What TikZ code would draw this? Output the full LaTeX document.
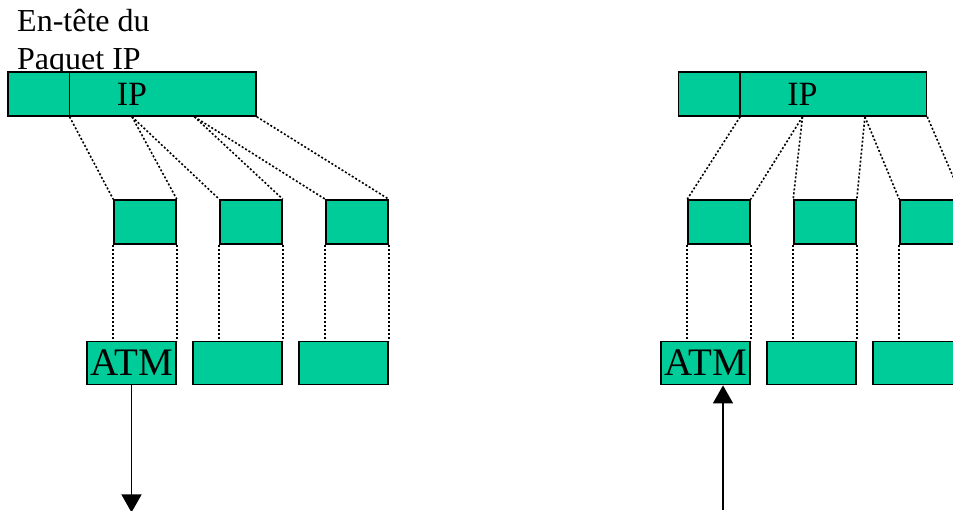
\documentclass[tikz,border=0pt]{standalone}
\usepackage{fontspec}
\setmainfont{Liberation Serif}
\usetikzlibrary{positioning}
\usetikzlibrary{calc}
\usetikzlibrary{arrows.meta}
\definecolor{cellgreen}{RGB}{0,204,153}
\tikzset{>={Triangle[width=20pt,length=18pt]}}
\tikzset{cell/.style={draw, fill=cellgreen, line width=1.6pt, inner sep=0pt, minimum height=44pt}}
\tikzset{ipbar/.style={cell, minimum width=248pt, font=\fontsize{34}{38}\selectfont}}
\tikzset{frag/.style={cell, minimum width=62pt}}
\tikzset{atmcell/.style={cell, minimum width=89pt, minimum height=43pt, font=\fontsize{39}{42}\selectfont}}
\tikzset{link/.style={line width=1.6pt, dash pattern=on 2pt off 2pt}}

\begin{document}
\begin{tikzpicture}[x=1pt, y=-1pt]
        \clip (0,0) rectangle (953,511);

        \node[anchor=base west, align=left, inner sep=0pt, font=\fontsize{32}{38}\selectfont] (title) at (17,70) {En-tête du\\Paquet IP};

        % sending side
        \node[ipbar] (barL) at (132,94) {IP};
        \coordinate (barL-1) at ($(barL.south west)!.25!(barL.south east)$);
        \coordinate (barL-2) at ($(barL.south west)!.5!(barL.south east)$);
        \coordinate (barL-3) at ($(barL.south west)!.75!(barL.south east)$);
        \draw[line width=1.6pt] ($(barL.north west)!.25!(barL.north east)$) -- (barL-1);

        \node[frag] (fL1) at (145,222) {};
        \node[frag, right=42.4pt of fL1] (fL2) {};
        \node[frag, right=42.4pt of fL2] (fL3) {};

        \node[atmcell, anchor=north east] (aL1) at ([yshift=-96pt]fL1.south east) {ATM};
        \node[atmcell, anchor=north east] (aL2) at ([yshift=-96pt]fL2.south east) {};
        \node[atmcell, anchor=north east] (aL3) at ([yshift=-96pt]fL3.south east) {};

        \draw[link] (barL-1) -- (fL1.north west);
        \draw[link] (barL-2) -- (fL1.north east);
        \draw[link] (barL-2) -- (fL2.north west);
        \draw[link] (barL-3) -- (fL2.north east);
        \draw[link] (barL-3) -- (fL3.north west);
        \draw[link] (barL.south east) -- (fL3.north east);

        \foreach \i in {1,2,3} {
          \draw[link] (fL\i.south west) -- (fL\i.south west |- aL\i.north);
          \draw[link] (fL\i.south east) -- (aL\i.north east);
        }

        \coordinate (outL) at ([yshift=-127pt]aL1.south);
        \draw[->, line width=1.6pt] (aL1.south) -- (outL);

        % receiving side
        \node[ipbar] (barR) at (802.5,94) {IP};
        \coordinate (barR-1) at ($(barR.south west)!.25!(barR.south east)$);
        \coordinate (barR-2) at ($(barR.south west)!.5!(barR.south east)$);
        \coordinate (barR-3) at ($(barR.south west)!.75!(barR.south east)$);
        \draw[line width=1.6pt] ($(barR.north west)!.25!(barR.north east)$) -- (barR-1);

        \node[frag] (fR1) at (719,222) {};
        \node[frag, right=42.4pt of fR1] (fR2) {};
        \node[frag, right=42.4pt of fR2] (fR3) {};

        \node[atmcell, anchor=north east] (aR1) at ([yshift=-96pt]fR1.south east) {ATM};
        \node[atmcell, anchor=north east] (aR2) at ([yshift=-96pt]fR2.south east) {};
        \node[atmcell, anchor=north east] (aR3) at ([yshift=-96pt]fR3.south east) {};

        \draw[link] (barR-1) -- (fR1.north west);
        \draw[link] (barR-2) -- (fR1.north east);
        \draw[link] (barR-2) -- (fR2.north west);
        \draw[link] (barR-3) -- (fR2.north east);
        \draw[link] (barR-3) -- (fR3.north west);
        \draw[link] (barR.south east) -- (fR3.north east);

        \foreach \i in {1,2,3} {
          \draw[link] (fR\i.south west) -- (fR\i.south west |- aR\i.north);
          \draw[link] (fR\i.south east) -- (aR\i.north east);
        }

        \coordinate (inR) at (723,510);
        \draw[->, line width=1.6pt] (inR) -- (inR |- aR1.south);
\end{tikzpicture}
\end{document}
